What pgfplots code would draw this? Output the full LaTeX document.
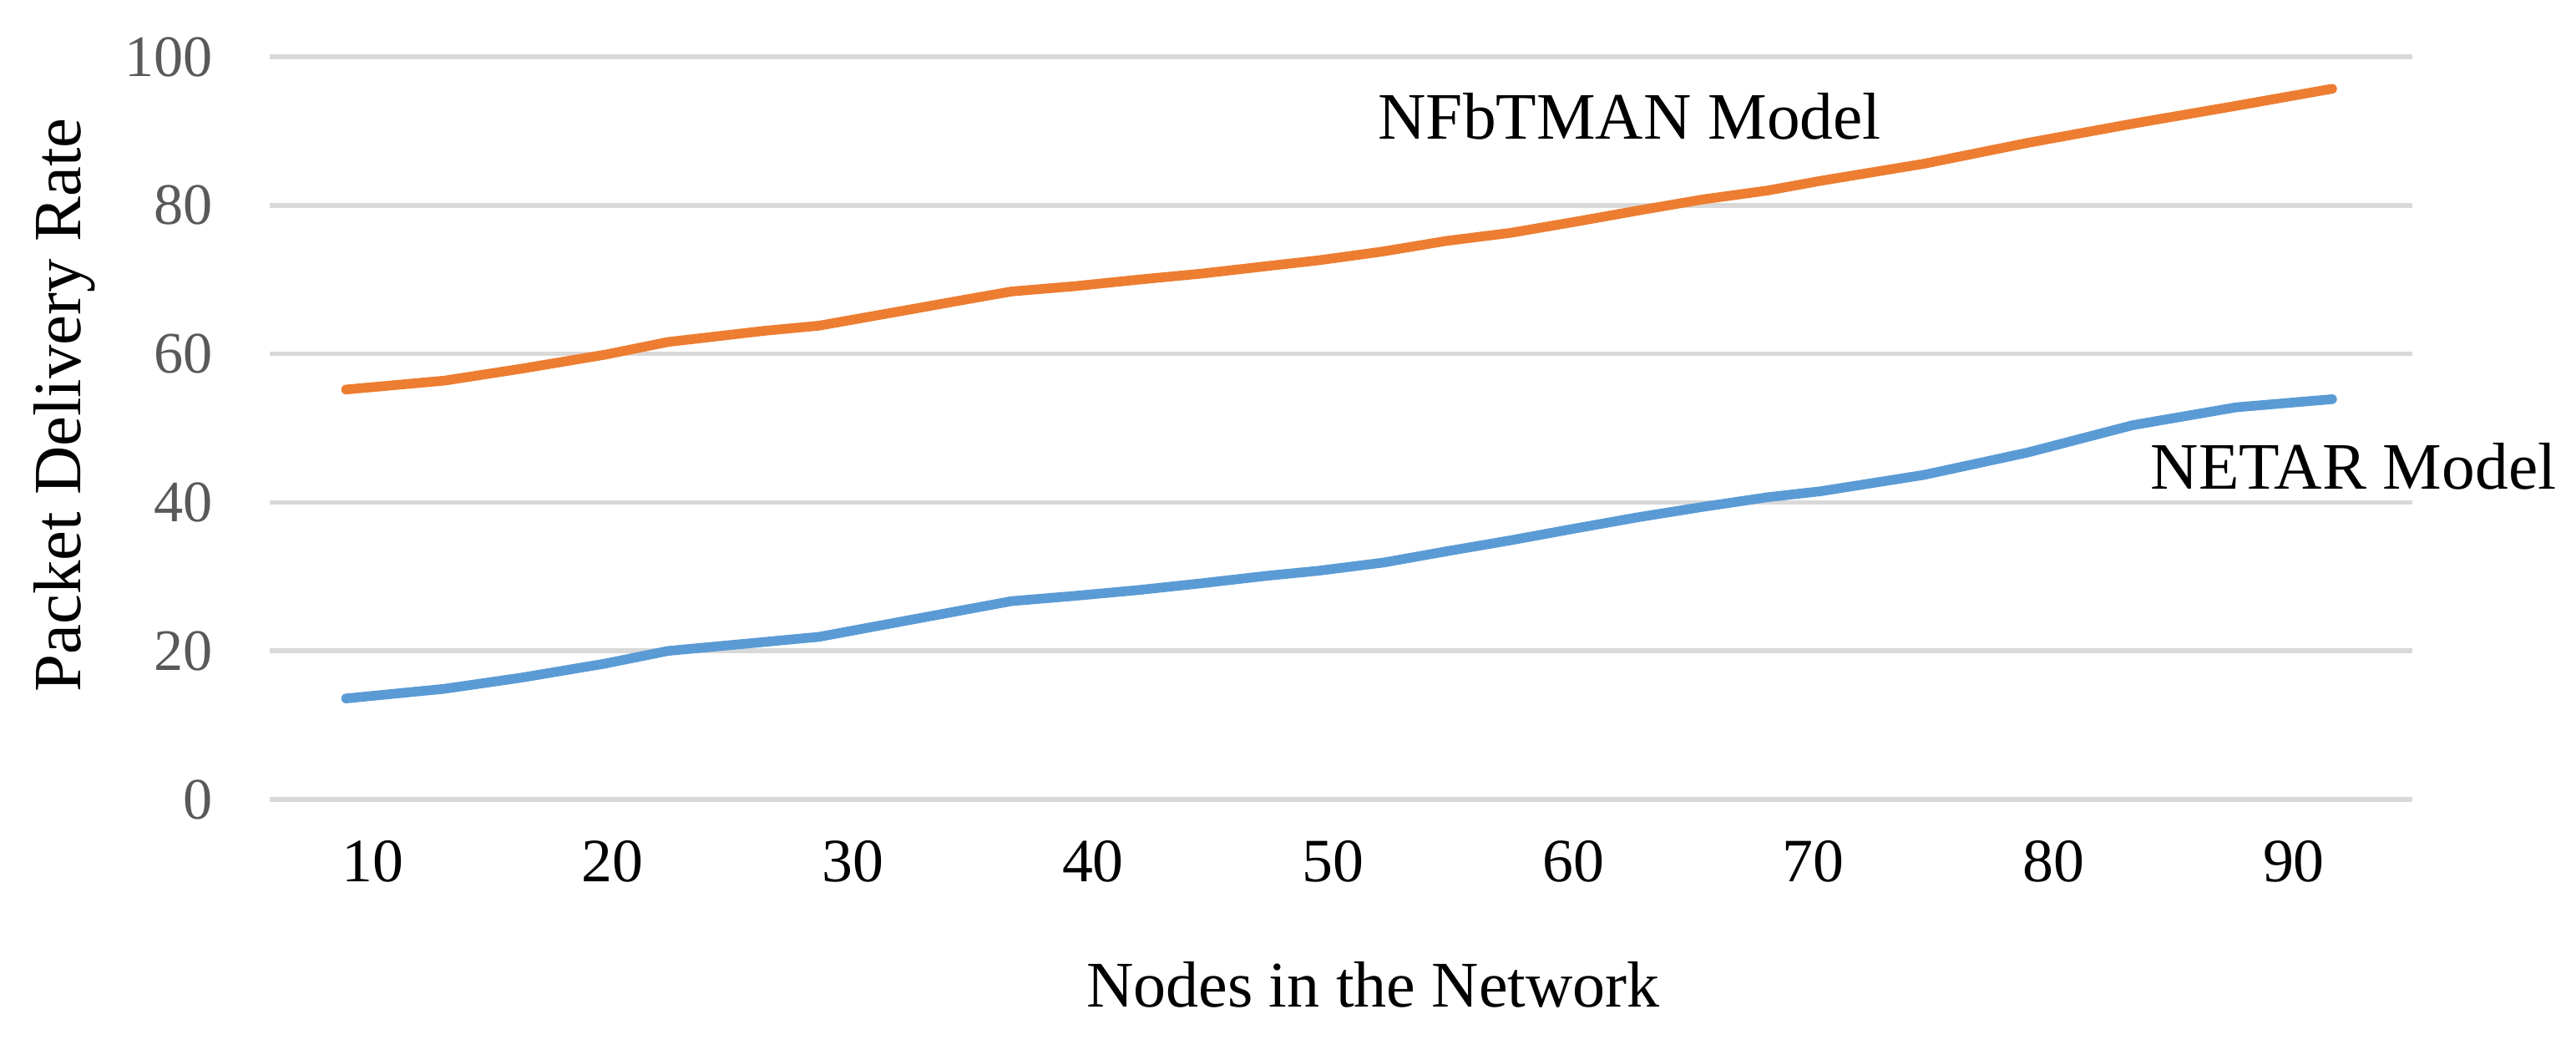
\documentclass[border=0pt]{standalone}
\usepackage{fontspec}
\setmainfont{Liberation Serif}
\usepackage{pgfplots}
\pgfplotsset{compat=1.18}

\definecolor{netar}{RGB}{91,155,213}
\definecolor{nfb}{RGB}{237,125,49}
\definecolor{gridc}{RGB}{217,217,217}
\definecolor{tickgray}{RGB}{89,89,89}

\begin{document}
\begin{tikzpicture}
\begin{axis}[
    at={(0,0)}, anchor=south west,
    scale only axis,
    width=12.83cm, height=4.445cm,
    xmin=5.72, xmax=94.94,
    ymin=0, ymax=100,
    axis line style={draw=none},
    xtick={10,20,30,40,50,60,70,80,90},
    ytick={0,20,40,60,80,100},
    ymajorgrids,
    grid style={gridc, line width=0.8pt},
    major tick length=0pt,
    tick style={draw=none},
    /pgf/number format/assume math mode=true,
    xticklabel style={font=\fontsize{10.5}{12}\selectfont, anchor=base, yshift=-0.49cm, inner sep=0pt},
    yticklabel style={font=\fontsize{10}{12}\selectfont, text=tickgray, anchor=east, inner sep=0pt, xshift=-0.335cm},
    xlabel={Nodes in the Network},
    xlabel style={font=\fontsize{11.1}{13}\selectfont, at={(axis description cs:0.515,-0.279)}, anchor=base},
    ylabel={Packet Delivery Rate},
    ylabel style={font=\fontsize{11.5}{13}\selectfont, at={(axis description cs:-0.0959,0.531)}, anchor=center},
    clip=false,
]
% NFbTMAN model
\addplot[nfb, line width=1.65pt, line join=round, line cap=round] coordinates {
    (8.9,55.2) (13.0,56.4) (16.2,58.0) (19.7,59.9) (22.3,61.6) (26.3,63.1)
    (28.6,63.8) (32.6,66.1) (34.5,67.2) (36.6,68.4) (39.2,69.1) (41.9,70.0)
    (44.5,70.8) (47.2,71.8) (49.4,72.6) (52.1,73.8) (54.7,75.2) (57.4,76.3)
    (60.1,77.8) (62.7,79.3) (65.4,80.8) (68.1,82.0) (70.3,83.3) (74.6,85.6)
    (78.9,88.4) (83.3,91.0) (87.6,93.4) (91.6,95.7)
};
% NETAR model
\addplot[netar, line width=1.65pt, line join=round, line cap=round] coordinates {
    (8.9,13.6) (13.0,14.9) (16.2,16.4) (19.7,18.3) (22.3,20.0) (26.3,21.2)
    (28.6,21.9) (32.6,24.3) (36.6,26.7) (39.2,27.4) (41.9,28.2) (44.5,29.1)
    (47.2,30.1) (49.4,30.8) (52.1,31.9) (54.7,33.4) (57.4,34.9) (60.1,36.5)
    (62.7,38.0) (65.4,39.4) (68.1,40.7) (70.3,41.5) (74.6,43.7) (78.9,46.7)
    (83.3,50.4) (87.6,52.8) (91.6,53.9)
};
\node[anchor=base west, inner sep=0pt, font=\fontsize{11.3}{13}\selectfont] at (axis cs:51.83,88.9) {NFbTMAN Model};
\node[anchor=base west, inner sep=0pt, font=\fontsize{11.3}{13}\selectfont] at (axis cs:84.0,41.8) {NETAR Model};
\end{axis}
\pgfresetboundingbox
\useasboundingbox (-1.615,-1.465) rectangle (13.81,4.785);
\end{tikzpicture}
\end{document}
